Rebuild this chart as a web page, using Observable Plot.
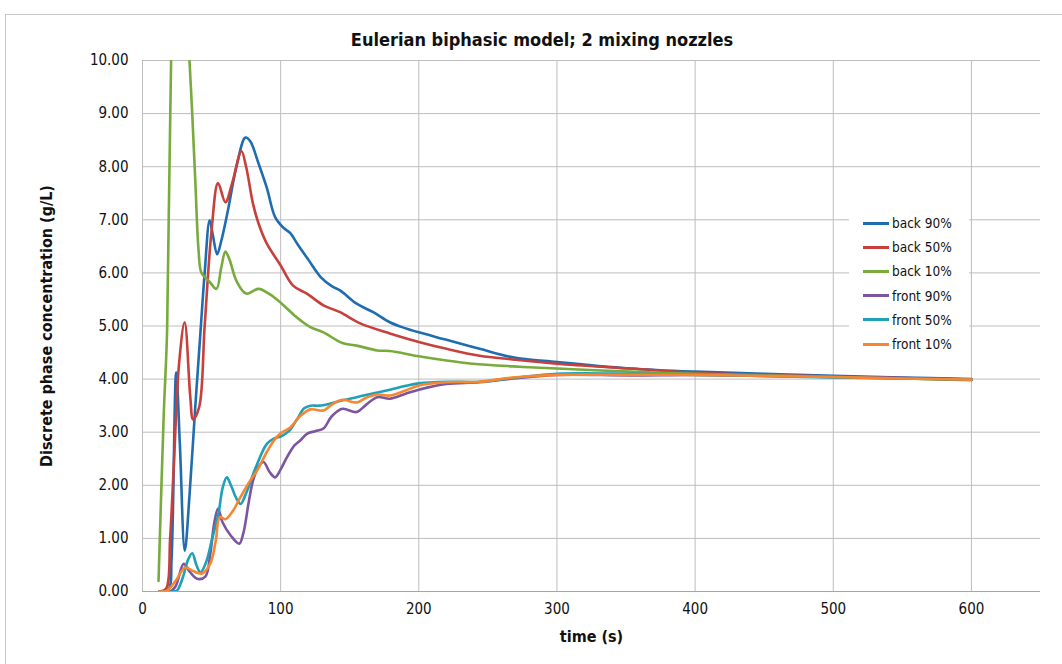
<!DOCTYPE html>
<html>
<head>
<meta charset="utf-8">
<script src="https://cdn.jsdelivr.net/npm/d3@7"></script>
<script src="https://cdn.jsdelivr.net/npm/@observablehq/plot@0.6"></script>
<style>
  body { margin:0; background:#fff; font-family:"Liberation Sans Narrow","DejaVu Sans Condensed","Liberation Sans",sans-serif; }
  #frame { position:absolute; left:5px; top:14px; width:1100px; height:700px; border:1px solid #c8c8c8; }
  #title { position:absolute; left:0; width:1084px; top:29px; text-align:center; font-weight:bold; font-size:18px; color:#111; }
  #chart { position:absolute; left:0; top:50px; }
  #legend { position:absolute; left:849px; top:208px; width:120px; background:#fff; padding:3px 0; }
  .row { height:24.2px; display:flex; align-items:center; font-size:13.5px; color:#111; }
  .sw { width:26px; height:3px; margin-left:14px; margin-right:3px; }
  g[aria-label="y-axis label"] text, g[aria-label="x-axis label"] text { font-weight:bold; font-size:16px; }
</style>
</head>
<body>
<div id="frame"></div>
<div id="title">Eulerian biphasic model; 2 mixing nozzles</div>
<div id="chart"></div>
<div id="legend"></div>
<script>
const seriesNames = ["back 90%", "back 50%", "back 10%", "front 90%", "front 50%", "front 10%"];
const seriesColors = ["#1f6db0", "#c8403c", "#78ab3c", "#7b55a0", "#1ea0b8", "#f7862f"];
const yTicks = [0,1,2,3,4,5,6,7,8,9,10];
const xTicks = [0,100,200,300,400,500,600];

const back90T = [12,19,21,24.4,27,30.6,34,38,42,45,48.6,51,54,57,62,68,74.5,78,84,90,96,102,107,112,120,129,137,143,155,167,179,190,200,220,244,268,300,353,400,450,500,550,600];
const back90V = [0,0.05,0.6,4.13,2.8,0.77,1.8,3.4,4.9,6.0,6.99,6.7,6.35,6.6,7.2,8.0,8.55,8.48,8.06,7.6,7.05,6.85,6.75,6.55,6.25,5.92,5.75,5.67,5.42,5.26,5.07,4.96,4.88,4.74,4.57,4.41,4.32,4.2,4.14,4.1,4.06,4.03,4.0];

const back50T = [12,17,20,22.7,26.5,30.5,34.6,36.6,41,45,50,54.7,60,65,71.6,75,80,84,90,100,109,119,131,143,157.6,179,200,220,244,268,300,353,400,450,500,550,600];
const back50V = [0,0.05,1.0,2.4,4.3,5.07,3.66,3.24,3.47,5.0,6.8,7.69,7.33,7.7,8.29,8.0,7.3,6.93,6.55,6.14,5.76,5.61,5.39,5.26,5.05,4.86,4.7,4.57,4.44,4.37,4.29,4.2,4.12,4.08,4.05,4.02,3.99];

const back10T = [11.6,15.4,17.8,20.7,24,27,30,34,36,38.3,40.6,42.7,48,53.5,57,60,63,68,75,84,92,100,110,121.5,131,144.6,155,170,179,200,220,239,268,300,353,400,450,500,550,600];
const back10V = [0.2,3.35,4.9,10,12.3,12.8,12.0,10,9.0,7.68,6.42,6.0,5.85,5.7,6.1,6.4,6.25,5.85,5.61,5.7,5.6,5.44,5.2,4.98,4.88,4.68,4.63,4.54,4.53,4.43,4.35,4.29,4.24,4.2,4.14,4.1,4.07,4.04,4.01,3.98];

const front90T = [12,20,24,29.8,34,39.5,45.5,49,52,54.7,58,64,70,73,77,80,84,87.6,92,96,100,104.6,110,114,119,125,131,137,144.6,155,162,170,179,190,200,220,244,268,300,353,400,450,500,550,600];
const front90V = [0,0,0.1,0.52,0.38,0.24,0.28,0.7,1.3,1.56,1.3,1.05,0.9,1.1,1.7,2.09,2.35,2.44,2.25,2.15,2.3,2.53,2.75,2.84,2.97,3.02,3.07,3.3,3.44,3.38,3.52,3.66,3.63,3.72,3.8,3.91,3.94,4.01,4.08,4.07,4.08,4.06,4.04,4.02,3.99];

const front50T = [12,22,25,29,33,36,39,42,46,50,55,58,61,64,68,71,75,82,90,95,100,106,112,117,121.5,128,136,145,155,165,179,190,200,220,244,268,300,353,400,450,500,550,600];
const front50V = [0,0,0.02,0.25,0.6,0.72,0.5,0.36,0.55,0.95,1.47,1.95,2.15,2.0,1.75,1.65,1.85,2.34,2.78,2.88,2.92,3.02,3.25,3.45,3.5,3.5,3.54,3.6,3.66,3.72,3.8,3.87,3.92,3.95,3.95,4.02,4.1,4.1,4.08,4.06,4.03,4.01,3.99];

const front10T = [12,16,18,24,31,37,43,49,53,56,60,65,71,77,83,89,95,100,107,114,121.5,131,137,144.6,155,162,170,179,190,200,220,244,268,300,353,400,450,500,550,600];
const front10V = [0,0,0.02,0.2,0.45,0.38,0.34,0.52,0.95,1.4,1.36,1.5,1.78,2.05,2.28,2.58,2.84,2.98,3.09,3.3,3.43,3.41,3.52,3.61,3.56,3.65,3.71,3.69,3.78,3.88,3.94,3.95,4.03,4.08,4.08,4.08,4.06,4.04,4.01,3.99];

const seriesT = [back90T, back50T, back10T, front90T, front50T, front10T];
const seriesV = [back90V, back50V, back10V, front90V, front50V, front10V];

const data = [];
seriesNames.forEach((name, i) => {
  seriesT[i].forEach((t, j) => data.push({series: name, t, v: seriesV[i][j]}));
});

const font = '"Liberation Sans Narrow","DejaVu Sans Condensed","Liberation Sans",sans-serif';

const chart = Plot.plot({
  width: 1062,
  height: 614,
  marginLeft: 142,
  marginRight: 22,
  marginTop: 10,
  marginBottom: 73,
  style: {fontFamily: font, fontSize: "15px", color: "#111", background: "transparent"},
  x: {domain: [0, 650], ticks: xTicks},
  y: {domain: [0, 10], ticks: yTicks},
  color: {domain: seriesNames, range: seriesColors},
  marks: [
    Plot.gridY(yTicks.slice(1), {stroke: "#bdbdbd", strokeOpacity: 1, strokeWidth: 1}),
    Plot.gridX(xTicks.slice(1), {stroke: "#bdbdbd", strokeOpacity: 1, strokeWidth: 1}),
    Plot.ruleY([0], {stroke: "#a6a6a6", strokeWidth: 1}),
    Plot.ruleX([0], {stroke: "#bdbdbd", strokeWidth: 1}),
    Plot.axisY(yTicks, {tickSize: 0, tickPadding: 14, tickFormat: d3.format(".2f"), label: "Discrete phase concentration (g/L)", labelAnchor: "center", labelArrow: "none", labelOffset: 102}),
    Plot.axisX(xTicks, {tickSize: 0, tickPadding: 12, label: "time (s)", labelAnchor: "center", labelArrow: "none", labelOffset: 50}),
    Plot.line(data, {x: "t", y: "v", z: "series", stroke: "series", strokeWidth: 2.6, curve: "catmull-rom", clip: true})
  ]
});
document.getElementById("chart").appendChild(chart);

const legend = document.getElementById("legend");
seriesNames.forEach((name, i) => {
  const row = document.createElement("div");
  row.className = "row";
  const sw = document.createElement("div");
  sw.className = "sw";
  sw.style.background = seriesColors[i];
  const label = document.createElement("span");
  label.textContent = name;
  row.appendChild(sw);
  row.appendChild(label);
  legend.appendChild(row);
});
</script>
</body>
</html>
